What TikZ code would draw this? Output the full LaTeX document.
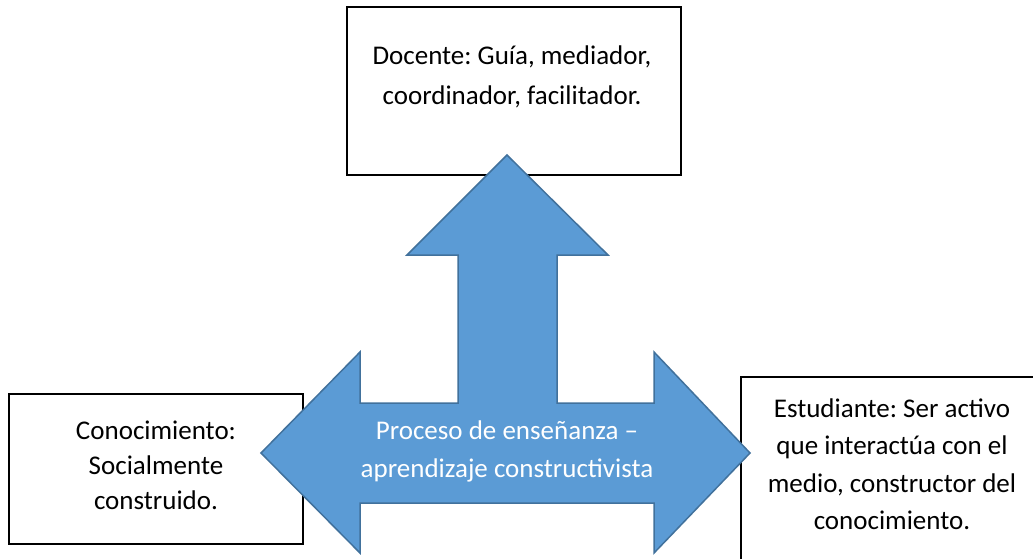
\documentclass[tikz,border=0pt]{standalone}
\usepackage{fontspec}
\setmainfont{Carlito}
\frenchspacing
\usetikzlibrary{calc}
\definecolor{arrowblue}{RGB}{91,155,213}
\definecolor{arrowedge}{RGB}{65,113,156}
\tikzset{
  box/.style       = {draw=black, line width=2pt, fill=white, inner sep=0pt},
  boxtext/.style   = {align=center, text=black},
  bigarrow/.style  = {fill=arrowblue, draw=arrowedge, line width=1.5pt, line join=miter},
  arrowtext/.style = {align=center, font=\fontsize{27}{38}\selectfont, text=white}
}

\begin{document}
\begin{tikzpicture}[x=1pt, y=-1pt]
    \useasboundingbox (0,0) rectangle (1033,558);
    \clip (0,0) rectangle (1033,558);

    % Boxes (the right one runs off the page)
    \node[box, minimum width=334pt, minimum height=168pt] (docente) at (514,91) {};
    \node[box, minimum width=294pt, minimum height=150pt] (conocimiento) at (156,469) {};
    \node[box, minimum width=302pt, minimum height=190pt] (estudiante) at (892,472) {};

    % Three-way block arrow
    \draw[bigarrow] (261,453) -- (360,352) -- (360,403) -- (458,403) -- (458,255)
      -- (407,255) -- (507,155) -- (608,255) -- (557,255) -- (557,403)
      -- (654,403) -- (654,352) -- (750,453) -- (654,553) -- (654,503)
      -- (360,503) -- (360,553) -- cycle;

    % Texts
    \node[boxtext, font=\fontsize{27}{40}\selectfont] (docentetxt) at (512,76.5)
      {Docente: Guía, mediador,\\coordinador, facilitador.};
    \node[boxtext, font=\fontsize{27}{35}\selectfont] (conocimientotxt) at (156,465)
      {Conocimiento:\\Socialmente\\construido.};
    \node[boxtext, font=\fontsize{27}{37.5}\selectfont] (estudiantetxt) at (892,464)
      {Estudiante: Ser activo\\que interactúa con el\\medio, constructor del\\conocimiento.};
    \node[arrowtext] (procesotxt) at (507,451) {Proceso de enseñanza --\\aprendizaje constructivista};
\end{tikzpicture}
\end{document}
